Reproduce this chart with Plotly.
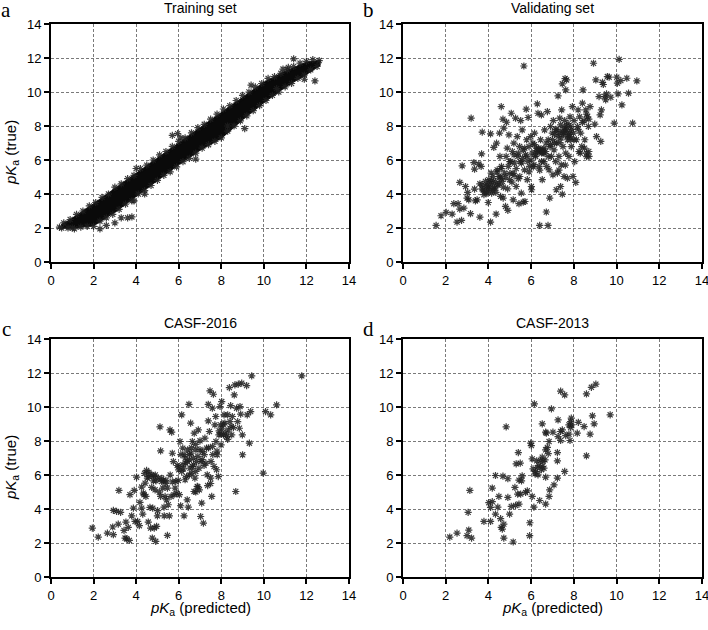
import plotly.graph_objects as go

# ---------------- data ----------------
tick_vals = [0, 2, 4, 6, 8, 10, 12, 14]

# Training set: dense core band (edges) + edge/outlier points
band_x = [0.5, 1, 2, 3, 4, 5, 6, 7, 8, 9, 10, 11, 12, 12.6]
band_upper = [2.15, 2.5, 3.35, 4.25, 5.15, 6.05, 6.95, 7.85, 8.75, 9.65, 10.5, 11.15, 11.7, 11.8]
band_lower = [2.05, 2.05, 2.2, 3.0, 3.95, 4.85, 5.8, 6.65, 7.35, 8.45, 9.45, 10.35, 11.1, 11.6]

train_x = [0.6, 0.9, 1.2, 1.5, 1.8, 2.1, 2.4, 2.7, 3.0, 3.3, 3.6, 3.9, 4.2, 4.5, 4.8, 5.1, 5.4, 5.7, 6.0, 6.3,
           6.6, 6.9, 7.2, 7.5, 7.8, 8.1, 8.4, 8.7, 9.0, 9.3, 9.6, 9.9, 10.2, 10.5, 10.8, 11.1, 11.4, 11.7, 12.0,
           12.3, 12.6,
           0.5, 0.8, 1.1, 1.4, 1.7, 2.0, 2.3, 2.6, 2.9, 3.2, 3.5, 3.8, 4.1, 4.4, 4.7, 5.0, 5.3, 5.6, 5.9, 6.2,
           6.5, 6.8, 7.1, 7.4, 7.7, 8.0, 8.3, 8.6, 8.9, 9.2, 9.5, 9.8, 10.1, 10.4, 10.7, 11.0, 11.3, 11.6, 11.9,
           12.2, 12.5,
           0.4, 1.0, 2.3, 2.6, 3.0, 3.3, 3.6, 3.8, 3.9, 5.7, 5.95, 6.1, 9.4, 9.1, 10.9, 11.15, 11.4, 11.9, 12.4,
           4.0, 4.4, 6.8, 8.3, 10.6]
train_y = [2.3, 2.5, 2.8, 3.0, 3.3, 3.5, 3.8, 4.0, 4.4, 4.6, 4.9, 5.1, 5.5, 5.7, 6.0, 6.3, 6.5, 6.8, 7.1, 7.3,
           7.6, 7.9, 8.1, 8.4, 8.7, 9.0, 9.2, 9.5, 9.8, 10.0, 10.3, 10.5, 10.8, 10.9, 11.1, 11.3, 11.5, 11.7, 11.8,
           11.9, 11.85,
           2.0, 2.0, 1.95, 2.05, 2.1, 2.1, 2.4, 2.6, 2.8, 3.1, 3.4, 3.6, 4.0, 4.2, 4.5, 4.8, 5.1, 5.3, 5.6, 5.9,
           6.1, 6.4, 6.7, 6.9, 7.1, 7.3, 7.7, 8.0, 8.3, 8.6, 8.9, 9.2, 9.5, 9.8, 10.0, 10.3, 10.5, 10.8, 11.0,
           11.3, 11.5,
           2.05, 2.0, 1.95, 2.15, 2.3, 2.6, 2.6, 2.65, 3.6, 7.45, 7.55, 7.3, 10.4, 7.85, 11.35, 11.45, 11.95,
           10.75, 10.65,
           5.5, 4.0, 6.05, 8.0, 10.2]

# Validating set
val_x = [1.55, 1.78, 2.02, 2.30, 2.38, 2.53, 2.58, 2.66, 2.66, 2.74, 2.77, 2.85, 2.93, 3.00, 3.03, 3.08, 3.16,
         3.19, 3.32, 3.35, 3.35, 3.39, 3.47, 3.55, 3.60, 3.66, 3.68, 3.71, 3.71, 3.74, 3.79, 3.83, 3.86, 3.91,
         3.94, 3.99, 4.02, 4.07, 4.10, 4.10, 4.13, 4.15, 4.18, 4.22, 4.25, 4.29, 4.33, 4.36, 4.38, 4.41, 4.44,
         4.49, 4.52, 4.54, 4.57, 4.60, 4.61, 4.65, 4.68, 4.69, 4.72, 4.76, 4.80, 4.83, 4.85, 4.88, 4.91, 4.93,
         4.96, 4.99, 5.04, 5.07, 5.12, 5.15, 5.16, 5.19, 5.22, 5.27, 5.30, 5.35, 5.38, 5.43, 5.46, 5.47, 5.51,
         5.54, 5.55, 5.58, 5.62, 5.63, 5.66, 5.69, 5.71, 5.74, 5.77, 5.79, 5.82, 5.85, 5.86, 5.90, 5.93, 5.98,
         6.01, 6.02, 6.05, 6.08, 6.13, 6.16, 6.21, 6.26, 6.29, 6.32, 6.37, 6.40, 6.41, 6.44, 6.48, 6.49, 6.52,
         6.55, 6.60, 6.63, 6.68, 6.71, 6.73, 6.76, 6.79, 6.80, 6.84, 6.87, 6.88, 6.91, 6.95, 6.99, 7.02, 7.04,
         7.07, 7.10, 7.15, 7.18, 7.20, 7.23, 7.26, 7.27, 7.30, 7.34, 7.35, 7.38, 7.38, 7.41, 7.43, 7.46, 7.46,
         7.49, 7.51, 7.54, 7.57, 7.59, 7.62, 7.62, 7.65, 7.66, 7.70, 7.70, 7.73, 7.77, 7.81, 7.82, 7.85, 7.88,
         7.93, 7.96, 7.98, 8.01, 8.04, 8.09, 8.12, 8.17, 8.20, 8.24, 8.27, 8.32, 8.37, 8.40, 8.43, 8.48, 8.51,
         8.56, 8.59, 8.63, 8.68, 8.71, 8.76, 8.92, 8.98, 9.03, 9.06, 9.18, 9.23, 9.26, 9.29, 9.34, 9.38, 9.45,
         9.49, 9.53, 9.57, 9.65, 9.73, 9.89, 10.01, 10.04, 10.07, 10.12, 10.20, 10.25, 10.48, 10.56, 10.75,
         10.95,
         6.30, 6.40, 6.50, 6.60, 6.20, 6.45, 7.50, 7.60, 7.70, 7.80, 7.40, 7.90, 7.55, 7.30, 5.00, 4.80, 4.60,
         4.50, 4.30, 4.20, 4.00, 3.90, 4.70, 5.30, 5.50, 5.60, 5.80, 6.00, 6.10, 5.90, 5.20, 5.40, 5.70, 6.90,
         7.00, 7.10, 7.20, 8.00, 8.20, 8.40, 8.60, 8.70, 8.50, 8.60, 8.70, 8.30, 7.60, 7.30, 6.80, 6.60, 6.40,
         4.90, 5.10, 5.40, 3.60, 3.70, 4.40, 4.60, 5.00, 5.20, 6.35, 6.55, 6.25, 7.45, 7.75, 7.65, 7.85, 4.15,
         4.35, 4.05, 3.95, 4.55, 6.70, 6.15, 7.15]
val_y = [2.15, 2.72, 2.92, 2.82, 3.43, 2.35, 3.43, 4.68, 3.11, 2.45, 5.66, 3.17, 4.44, 3.76, 4.09, 3.66, 2.84,
         8.46, 5.85, 5.46, 4.29, 3.60, 3.66, 5.76, 2.64, 5.62, 6.36, 7.64, 4.54, 4.25, 3.96, 4.15, 4.74, 4.44,
         4.05, 3.50, 4.84, 4.35, 2.35, 7.54, 5.23, 4.05, 4.64, 5.03, 6.74, 4.35, 4.74, 2.82, 6.99, 5.42, 4.54,
         5.03, 7.58, 6.21, 3.86, 9.14, 5.62, 4.74, 8.40, 3.76, 7.87, 5.23, 3.27, 6.21, 8.22, 6.70, 3.04, 5.62,
         7.48, 4.84, 5.91, 8.75, 6.50, 5.23, 3.66, 6.99, 5.82, 8.46, 4.44, 7.38, 6.21, 3.43, 6.79, 5.03, 8.32,
         4.05, 5.82, 7.77, 6.60, 3.52, 11.53, 5.42, 3.56, 6.31, 8.99, 7.19, 4.84, 5.91, 8.50, 6.79, 5.62, 7.38,
         4.44, 4.25, 6.40, 6.99, 5.72, 7.58, 6.21, 6.70, 9.30, 8.75, 5.62, 2.15, 6.50, 7.19, 8.65, 5.91, 4.84,
         6.60, 6.40, 7.77, 6.50, 2.94, 5.62, 8.85, 2.15, 7.19, 5.42, 3.76, 6.79, 7.97, 6.21, 7.58, 5.13, 8.32,
         6.60, 6.99, 5.91, 4.25, 7.77, 5.23, 9.77, 7.38, 6.21, 8.46, 7.03, 4.44, 8.07, 5.72, 8.95, 3.99, 10.48,
         6.79, 7.58, 5.03, 8.32, 10.79, 6.40, 10.12, 7.77, 10.71, 7.19, 4.93, 8.14, 6.21, 7.38, 8.54, 7.97, 6.79,
         9.14, 5.03, 7.58, 8.32, 5.91, 4.68, 7.19, 7.97, 8.95, 6.50, 8.54, 7.58, 6.79, 9.34, 10.12, 8.32, 7.19,
         8.95, 6.40, 8.54, 7.97, 6.21, 9.14, 11.69, 8.11, 10.71, 7.38, 9.73, 8.65, 7.09, 8.95, 10.57, 10.44, 9.73,
         9.54, 9.89, 10.91, 10.87, 9.69, 8.17, 10.87, 10.52, 9.89, 11.92, 10.67, 9.24, 10.81, 9.93, 8.17,
         10.65,
         6.50, 6.60, 6.40, 6.70, 6.30, 6.55, 7.50, 7.70, 7.40, 7.60, 7.30, 7.80, 7.90, 7.60, 5.20, 5.00, 4.90,
         4.60, 4.40, 4.20, 4.30, 4.10, 4.40, 5.50, 5.90, 6.10, 6.20, 6.00, 5.60, 5.30, 6.30, 6.40, 6.70, 6.90,
         7.20, 7.50, 7.00, 7.20, 7.80, 8.20, 8.70, 8.40, 6.70, 6.20, 6.50, 6.40, 5.70, 5.40, 6.20, 5.90, 5.40,
         4.30, 4.70, 4.90, 4.60, 4.30, 5.30, 5.50, 5.90, 5.10, 6.70, 6.45, 6.55, 7.70, 7.50, 8.00, 7.20, 4.80,
         4.10, 4.60, 4.50, 5.00, 7.00, 6.90, 7.80]

# CASF-2016
c16_x = [1.94, 2.22, 2.65, 2.90, 2.93, 2.93, 3.08, 3.16, 3.19, 3.27, 3.43, 3.48, 3.52, 3.55, 3.63, 3.68, 3.71,
         3.79, 3.87, 3.91, 3.95, 4.02, 4.07, 4.15, 4.18, 4.26, 4.26, 4.31, 4.34, 4.37, 4.42, 4.46, 4.49, 4.53,
         4.57, 4.60, 4.65, 4.68, 4.73, 4.73, 4.76, 4.78, 4.81, 4.84, 4.85, 4.89, 4.92, 4.93, 4.96, 5.00, 5.01,
         5.04, 5.09, 5.12, 5.15, 5.15, 5.20, 5.25, 5.28, 5.31, 5.32, 5.36, 5.40, 5.43, 5.47, 5.47, 5.51, 5.56,
         5.59, 5.64, 5.67, 5.70, 5.75, 5.78, 5.83, 5.86, 5.90, 5.93, 5.98, 6.01, 6.03, 6.06, 6.09, 6.14, 6.14,
         6.19, 6.22, 6.25, 6.26, 6.30, 6.33, 6.37, 6.40, 6.42, 6.45, 6.48, 6.50, 6.53, 6.56, 6.58, 6.61, 6.64,
         6.65, 6.69, 6.72, 6.73, 6.76, 6.80, 6.81, 6.84, 6.87, 6.92, 6.95, 6.97, 7.00, 7.03, 7.05, 7.08, 7.11,
         7.16, 7.19, 7.23, 7.28, 7.31, 7.34, 7.36, 7.39, 7.39, 7.44, 7.47, 7.50, 7.52, 7.55, 7.58, 7.59, 7.63,
         7.66, 7.70, 7.74, 7.75, 7.78, 7.81, 7.86, 7.89, 7.94, 7.97, 7.99, 8.02, 8.05, 8.10, 8.13, 8.17, 8.21,
         8.25, 8.30, 8.33, 8.38, 8.41, 8.44, 8.46, 8.49, 8.52, 8.57, 8.61, 8.64, 8.68, 8.72, 8.77, 8.80, 8.85,
         8.88, 8.91, 8.96, 8.99, 9.00, 9.19, 9.22, 9.32, 9.38, 9.43, 9.97, 10.08, 10.32, 10.60, 11.78,
         6.30, 6.50, 6.70, 6.90, 7.10, 6.40, 6.60, 6.80, 7.00, 7.20, 6.20, 6.00, 6.10, 7.40, 7.60, 7.80, 8.00,
         8.30, 8.10, 7.90, 6.50, 6.90, 7.50, 6.80, 5.60, 5.70, 4.40, 4.60, 4.90, 5.20, 5.40]
c16_y = [2.88, 2.35, 2.58, 2.94, 2.49, 3.92, 3.86, 3.11, 5.09, 3.80, 2.74, 2.29, 3.23, 2.25, 2.92, 2.15, 4.84,
         3.60, 4.05, 5.09, 3.27, 5.87, 3.27, 3.02, 4.39, 4.05, 5.29, 3.70, 4.93, 4.84, 5.52, 4.74, 6.27, 5.82,
         3.23, 6.15, 4.09, 2.88, 6.01, 5.27, 2.29, 4.05, 5.66, 5.91, 2.88, 5.13, 2.10, 5.66, 2.98, 3.60, 3.90,
         5.82, 4.99, 8.83, 4.74, 7.42, 5.62, 5.23, 5.66, 4.11, 3.60, 4.74, 5.68, 4.54, 5.23, 2.45, 4.25, 3.60,
         8.65, 4.74, 8.52, 7.28, 6.79, 4.84, 5.23, 5.62, 4.93, 6.56, 5.68, 6.50, 4.84, 7.97, 4.19, 9.54, 6.21,
         7.58, 6.36, 3.60, 7.19, 5.72, 6.70, 5.91, 4.54, 7.48, 4.11, 10.16, 6.89, 6.40, 9.05, 7.28, 6.11, 7.97,
         6.50, 6.99, 5.03, 8.46, 5.82, 6.21, 7.48, 6.79, 5.33, 8.65, 6.40, 5.13, 8.01, 3.56, 6.79, 4.35, 7.38,
         3.17, 6.56, 8.17, 6.70, 7.58, 6.01, 5.38, 9.18, 10.16, 8.56, 10.95, 5.82, 6.79, 4.74, 9.93, 7.68, 10.75,
         6.50, 8.95, 9.44, 7.97, 6.31, 7.19, 5.91, 8.36, 10.03, 8.95, 7.77, 10.32, 8.75, 8.36, 9.54, 9.05, 8.46,
         8.26, 9.54, 8.65, 11.14, 9.14, 10.08, 8.85, 8.36, 9.44, 8.79, 10.71, 11.30, 5.03, 9.93, 9.14, 11.34,
         8.75, 10.03, 9.58, 11.40, 8.36, 7.19, 11.26, 9.54, 7.87, 9.73, 11.83, 6.11, 9.73, 9.54, 10.12, 11.83,
         7.00, 7.20, 6.60, 7.10, 6.90, 6.80, 7.60, 7.80, 7.50, 7.20, 6.60, 6.30, 7.20, 7.60, 7.20, 7.40, 8.40,
         8.10, 9.00, 8.60, 6.00, 5.30, 5.50, 5.00, 6.00, 5.60, 6.10, 5.90, 6.00, 5.80, 5.50]

# CASF-2013
c13_x = [2.19, 2.53, 3.00, 3.08, 3.21, 3.05, 3.13, 3.79, 4.02, 4.10, 4.18, 4.10, 4.18, 4.33, 4.33, 4.44, 4.49,
         4.57, 4.60, 4.65, 4.72, 4.72, 4.68, 4.83, 4.91, 4.91, 4.99, 5.07, 5.16, 5.27, 5.24, 5.30, 5.37, 5.40,
         5.43, 5.43, 5.49, 5.51, 5.55, 5.58, 5.74, 5.82, 5.93, 5.94, 5.98, 6.01, 6.05, 6.05, 6.09, 6.13, 6.15,
         6.21, 6.18, 6.26, 6.29, 6.32, 6.37, 6.40, 6.44, 6.48, 6.52, 6.52, 6.56, 6.60, 6.52, 6.65, 6.68, 6.68,
         6.68, 6.71, 6.68, 6.76, 6.80, 6.84, 6.84, 6.87, 6.95, 7.02, 7.07, 7.23, 7.23, 7.23, 7.26, 7.26, 7.38,
         7.38, 7.38, 7.46, 7.57, 7.57, 7.62, 7.77, 7.77, 7.85, 7.82, 7.85, 7.88, 7.90, 8.16, 8.21, 8.48, 8.59,
         8.59, 8.76, 8.82, 8.87, 8.95, 9.03, 9.70]
c13_y = [2.35, 2.58, 2.43, 2.76, 2.29, 3.80, 5.09, 3.27, 4.37, 3.27, 4.43, 4.09, 5.23, 3.70, 5.97, 4.11, 4.74,
         3.43, 2.92, 2.82, 3.11, 2.29, 5.93, 8.83, 5.78, 4.68, 3.70, 4.15, 2.06, 4.21, 5.27, 6.66, 4.88, 7.32,
         4.29, 5.70, 6.70, 4.88, 5.66, 5.95, 4.97, 5.07, 2.43, 3.19, 7.87, 7.73, 4.74, 6.95, 6.36, 4.11, 10.18,
         6.20, 6.07, 6.83, 6.44, 6.01, 6.56, 4.50, 6.85, 6.31, 7.05, 6.50, 6.79, 6.40, 9.01, 6.89, 4.29, 5.87,
         7.48, 8.46, 8.52, 7.62, 7.26, 4.74, 7.97, 5.13, 9.89, 8.52, 5.42, 7.32, 6.83, 5.82, 9.24, 8.26, 8.03,
         8.56, 10.93, 8.65, 10.71, 6.21, 8.32, 8.40, 8.95, 8.79, 8.03, 9.14, 9.34, 8.95, 8.46, 9.10, 8.85, 10.77,
         7.13, 8.40, 11.16, 9.48, 9.01, 11.34, 9.54]

panel_titles = ["Training set", "Validating set", "CASF-2016", "CASF-2013"]
panel_letters = ["a", "b", "c", "d"]

# ---------------- figure ----------------
W, H = 708, 630
fig = go.Figure()

marker = dict(symbol="asterisk-open", size=6, color="rgba(30,30,30,0.85)",
              line=dict(width=1.2, color="rgba(30,30,30,0.85)"))

# Training band core
fig.add_trace(go.Scatter(x=band_x + band_x[::-1], y=band_upper + band_lower[::-1],
                         fill="toself", fillcolor="rgb(10,10,10)", mode="lines",
                         line=dict(width=3, color="rgb(10,10,10)"), hoverinfo="skip",
                         xaxis="x", yaxis="y", showlegend=False))
fig.add_trace(go.Scatter(x=train_x, y=train_y, mode="markers", marker=marker,
                         xaxis="x", yaxis="y", showlegend=False))
fig.add_trace(go.Scatter(x=val_x, y=val_y, mode="markers", marker=marker,
                         xaxis="x2", yaxis="y2", showlegend=False))
fig.add_trace(go.Scatter(x=c16_x, y=c16_y, mode="markers", marker=marker,
                         xaxis="x3", yaxis="y3", showlegend=False))
fig.add_trace(go.Scatter(x=c13_x, y=c13_y, mode="markers", marker=marker,
                         xaxis="x4", yaxis="y4", showlegend=False))

# plot areas in pixels (left, right, top, bottom)
boxes = [(51, 349, 24, 262), (403, 702, 24, 262), (51, 349, 339, 577), (403, 702, 339, 577)]

font_tick = dict(family="Liberation Sans, Arial, sans-serif", size=13, color="black")
layout = dict(width=W, height=H, margin=dict(l=0, r=0, t=0, b=0, pad=0, autoexpand=False),
              autosize=False, paper_bgcolor="white", plot_bgcolor="white", showlegend=False)

for i, (l, r, t, b) in enumerate(boxes):
    sfx = "" if i == 0 else str(i + 1)
    axcommon = dict(range=[0, 14], tickvals=tick_vals, ticks="outside", ticklen=5, tickwidth=1.5,
                    tickcolor="black", showline=True, linewidth=2, linecolor="black", mirror=True,
                    showgrid=True, gridcolor="#7a7a7a", gridwidth=1, griddash="3px,2px",
                    zeroline=False, tickfont=font_tick, fixedrange=True, automargin=False,
                    ticklabeloverflow="allow")
    layout["xaxis" + sfx] = dict(axcommon, domain=[l / W, r / W], anchor="y" + sfx)
    layout["yaxis" + sfx] = dict(axcommon, domain=[1 - b / H, 1 - t / H], anchor="x" + sfx)

fig.update_layout(**layout)

ann = []
title_y = [8, 8, 323, 323]
for i, (l, r, t, b) in enumerate(boxes):
    ann.append(dict(text=panel_titles[i], x=(l + r) / 2 / W, y=1 - title_y[i] / H, xref="paper",
                    yref="paper", showarrow=False, xanchor="center", yanchor="middle",
                    font=dict(family="Liberation Sans, Arial, sans-serif", size=14, color="black")))
letter_pos = [(6, 10), (368, 10), (6, 329), (368, 329)]
for i, (px, py) in enumerate(letter_pos):
    ann.append(dict(text=panel_letters[i], x=px / W, y=1 - py / H, xref="paper", yref="paper",
                    showarrow=False, xanchor="center", yanchor="middle",
                    font=dict(family="Liberation Serif, Times New Roman, serif", size=21, color="black")))
ylab = "<i>pK</i><sub>a</sub> (true)"
xlab = "<i>pK</i><sub>a</sub> (predicted)"
for py in (153, 468):
    ann.append(dict(text=ylab, x=11 / W, y=1 - py / H, xref="paper", yref="paper", showarrow=False,
                    textangle=-90, xanchor="center", yanchor="middle",
                    font=dict(family="Liberation Sans, Arial, sans-serif", size=15, color="black")))
for px in (200, 552):
    ann.append(dict(text=xlab, x=px / W, y=1 - 608 / H, xref="paper", yref="paper", showarrow=False,
                    xanchor="center", yanchor="middle",
                    font=dict(family="Liberation Sans, Arial, sans-serif", size=15, color="black")))
fig.update_layout(annotations=ann)

fig.write_html("out.html", config={"displayModeBar": False},
               post_script="document.body.style.margin='0';document.body.style.overflow='hidden';")
